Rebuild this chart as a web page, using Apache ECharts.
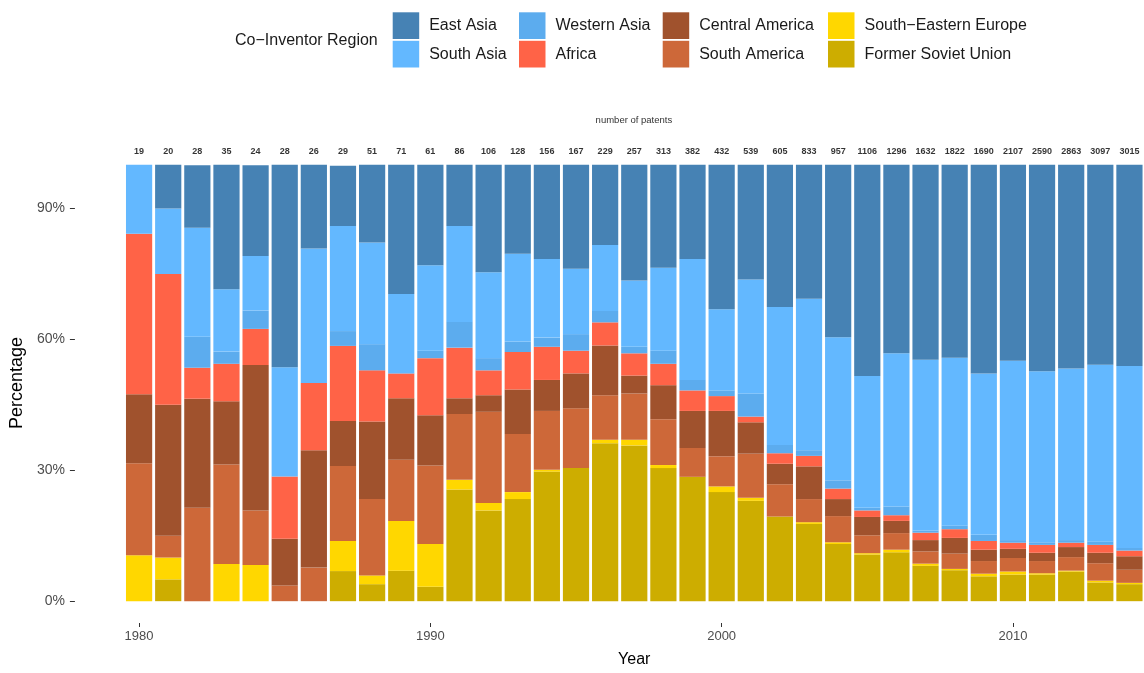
<!DOCTYPE html>
<html>
<head>
<meta charset="utf-8">
<title>Co-Inventor Region by Year</title>
<script src="https://cdn.jsdelivr.net/npm/echarts@6/dist/echarts.min.js"></script>
<style>
  html, body { margin: 0; padding: 0; background: #fff; }
  #chart { width: 1144px; height: 673px; }
</style>
</head>
<body>
<div id="chart"></div>
<script>
const years = ['1980', '1981', '1982', '1983', '1984', '1985', '1986', '1987', '1988', '1989',
  '1990', '1991', '1992', '1993', '1994', '1995', '1996', '1997', '1998', '1999',
  '2000', '2001', '2002', '2003', '2004', '2005', '2006', '2007', '2008', '2009',
  '2010', '2011', '2012', '2013', '2014']
// number of patents per year (labels above the bars)
const patents = [19, 20, 28, 35, 24, 28, 26, 29, 51, 71,
  61, 86, 106, 128, 156, 167, 229, 257, 313, 382,
  432, 539, 605, 833, 957, 1106, 1296, 1632, 1822, 1690,
  2107, 2590, 2863, 3097, 3015]

// share of co-inventors per region, in percent
const eastAsia = [0, 10, 14.3, 28.5, 20.8, 46.4, 19.2, 13.8, 17.8, 29.6,
  23.0, 14.0, 24.6, 20.4, 21.6, 23.8, 18.4, 26.5, 23.6, 21.6,
  33.1, 26.3, 32.6, 30.7, 39.5, 48.4, 43.2, 44.7, 44.2, 47.8,
  44.9, 47.3, 46.7, 45.8, 46.1]
const southAsia = [15.8, 15, 25, 14.3, 12.5, 25, 30.8, 24.1, 23.3, 18.2,
  19.6, 22.0, 19.7, 20.1, 18.0, 15.0, 15.1, 15.2, 19.0, 27.7,
  18.6, 26.1, 31.6, 34.7, 32.8, 30.2, 35.1, 39.1, 38.5, 37.0,
  41.1, 39.2, 39.3, 40.5, 41.7]
const westernAsia = [0, 0, 7.1, 2.8, 4.2, 0, 0, 3.4, 6.0, 0,
  1.7, 5.9, 2.8, 2.4, 2.1, 3.8, 2.6, 1.5, 3.0, 2.4,
  1.3, 5.3, 1.9, 1.3, 1.9, 0.6, 2.0, 0.5, 0.8, 1.4,
  0.6, 0.6, 0.6, 0.8, 0.6]
const africa = [36.8, 30, 7.1, 8.6, 8.3, 14.3, 15.4, 17.2, 11.7, 5.7,
  13.1, 11.6, 5.7, 8.6, 7.6, 5.2, 5.3, 5.1, 4.9, 4.7,
  3.4, 1.3, 2.4, 2.4, 2.4, 1.5, 1.3, 1.7, 2.0, 2.0,
  1.4, 1.8, 1.0, 1.8, 1.3]
const centralAmerica = [15.8, 30, 25, 14.5, 33.3, 10.7, 26.9, 10.3, 17.8, 14.1,
  11.5, 3.6, 3.8, 10.2, 7.1, 8.0, 11.4, 4.1, 7.8, 8.5,
  10.4, 7.2, 4.7, 7.5, 3.9, 4.2, 2.8, 2.6, 3.6, 2.6,
  2.1, 1.9, 2.3, 2.4, 3.1]
const southAmerica = [21.1, 5, 21.4, 22.8, 12.5, 3.6, 7.7, 17.2, 17.5, 14.0,
  18.0, 15.1, 20.9, 13.3, 13.5, 13.7, 10.2, 10.6, 10.5, 6.6,
  6.9, 10.1, 7.4, 5.3, 6.0, 4.1, 3.8, 2.8, 3.5, 2.9,
  3.1, 2.8, 3.1, 4.0, 3.0]
const seEurope = [10.5, 5, 0, 8.5, 8.3, 0, 0, 6.9, 2.0, 11.4,
  9.8, 2.2, 1.7, 1.6, 0.4, 0, 0.8, 1.3, 0.7, 0,
  1.3, 0.7, 0, 0.4, 0.4, 0.3, 0.6, 0.5, 0.3, 0.6,
  0.7, 0.3, 0.2, 0.4, 0.3]
const formerSoviet = [0, 5, 0, 0, 0, 0, 0, 6.9, 3.9, 7.0,
  3.3, 25.6, 20.8, 23.4, 29.7, 30.5, 36.2, 35.7, 30.5, 28.5,
  25.0, 23.0, 19.4, 17.7, 13.1, 10.7, 11.2, 8.1, 7.1, 5.7,
  6.1, 6.1, 6.8, 4.3, 3.9]

const yTicks = [0, 30, 60, 90]
const xTicks = [1980, 1990, 2000, 2010]

// bottom of the stack first
const regions = [
  { name: 'Former Soviet Union', values: formerSoviet, color: '#CDAD00' },
  { name: 'South\u2212Eastern Europe', values: seEurope, color: '#FFD700' },
  { name: 'South America', values: southAmerica, color: '#CD6839' },
  { name: 'Central America', values: centralAmerica, color: '#A0522D' },
  { name: 'Africa', values: africa, color: '#FF6347' },
  { name: 'Western Asia', values: westernAsia, color: '#5CACEE' },
  { name: 'South Asia', values: southAsia, color: '#63B8FF' },
  { name: 'East Asia', values: eastAsia, color: '#4682B4' }
]

const font = '"Liberation Sans", Arial, sans-serif'
const myChart = echarts.init(document.getElementById('chart'))

const legendBase = {
  orient: 'vertical',
  top: 12.3,
  padding: 0,
  itemWidth: 26.5,
  itemHeight: 26.7,
  itemGap: 1.8,
  icon: 'rect',
  selectedMode: false,
  textStyle: {
    fontFamily: font,
    fontSize: 16,
    color: '#1a1a1a',
    padding: [2, 0, 0, 5]
  }
}

const series = regions.map(r => ({
  name: r.name,
  type: 'bar',
  stack: 'total',
  barWidth: '90%',
  xAxisIndex: 0,
  itemStyle: { color: r.color },
  emphasis: { disabled: true },
  data: r.values
}))

// patent counts written above each bar
series.push({
  type: 'scatter',
  xAxisIndex: 0,
  symbolSize: 0,
  silent: true,
  data: years.map((y, i) => [y, 103, patents[i]]),
  label: {
    show: true,
    position: 'inside',
    fontFamily: font,
    fontSize: 9,
    fontWeight: 'bold',
    color: '#000',
    formatter: p => String(p.value[2])
  }
})

const option = {
  backgroundColor: '#fff',
  animation: false,
  textStyle: { fontFamily: font },
  grid: {
    left: 122.4,
    right: -1.8,
    top: 143,
    bottom: 46.7
  },
  legend: [
    Object.assign({ left: 392.7, data: ['East Asia', 'South Asia'] }, legendBase),
    Object.assign({ left: 519, data: ['Western Asia', 'Africa'] }, legendBase),
    Object.assign({ left: 662.7, data: ['Central America', 'South America'] }, legendBase),
    Object.assign({ left: 828, data: ['South\u2212Eastern Europe', 'Former Soviet Union'] }, legendBase)
  ],
  graphic: [
    {
      type: 'text',
      left: 235,
      top: 33,
      style: {
        text: 'Co\u2212Inventor Region',
        font: '16px "Liberation Sans", Arial, sans-serif',
        fill: '#1a1a1a'
      }
    },
    {
      type: 'text',
      x: 633.9,
      y: 120,
      style: {
        text: 'number of patents',
        font: '9.5px "Liberation Sans", Arial, sans-serif',
        fill: '#333',
        align: 'center',
        verticalAlign: 'middle'
      }
    }
  ],
  xAxis: [
    {
      type: 'category',
      data: years,
      boundaryGap: true,
      show: false
    },
    {
      // continuous year scale carrying the ticks and labels
      type: 'value',
      min: 1979.5,
      max: 2014.5,
      position: 'bottom',
      name: 'Year',
      nameLocation: 'middle',
      nameGap: 29,
      nameTextStyle: { fontSize: 16, color: '#000', fontFamily: font },
      axisLine: { show: false },
      splitLine: { show: false },
      axisTick: {
        show: true,
        length: 4,
        customValues: xTicks,
        lineStyle: { color: '#333' }
      },
      axisLabel: {
        customValues: xTicks,
        margin: 7,
        fontSize: 13,
        color: '#4d4d4d',
        fontFamily: '"Liberation Sans Narrow", "Liberation Sans", Arial, sans-serif',
        formatter: v => String(v)
      }
    }
  ],
  yAxis: {
    type: 'value',
    min: -5,
    max: 105,
    offset: 49.6,
    name: 'Percentage',
    nameLocation: 'middle',
    nameGap: 48,
    nameTextStyle: { fontSize: 18, color: '#000', fontFamily: font },
    axisLine: { show: false },
    splitLine: { show: false },
    axisTick: {
      show: true,
      length: 5,
      customValues: yTicks,
      lineStyle: { color: '#333' }
    },
    axisLabel: {
      customValues: yTicks,
      margin: 10,
      fontSize: 14,
      color: '#4d4d4d',
      formatter: '{value}%'
    }
  },
  series: series
}

myChart.setOption(option)
</script>
</body>
</html>
